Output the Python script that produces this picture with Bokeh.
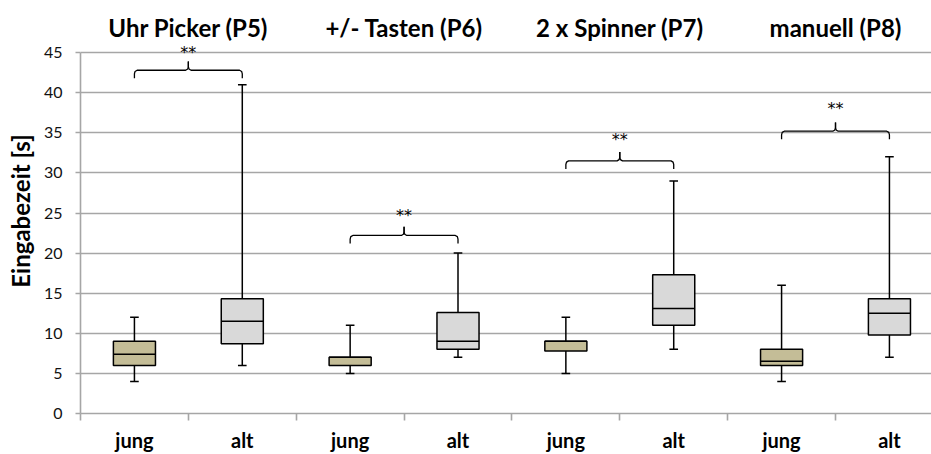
from bokeh.plotting import figure
from bokeh.models import FixedTicker, ColumnDataSource
from bokeh.core.properties import value
from bokeh.embed import file_html
from bokeh.resources import INLINE

# ---- data ----
groups = ["Uhr Picker (P5)", "+/- Tasten (P6)", "2 x Spinner (P7)", "manuell (P8)"]
cat_labels = ["jung", "alt", "jung", "alt", "jung", "alt", "jung", "alt"]
w_low  = [4, 6, 5, 7, 5, 8, 4, 7]
q1     = [6, 8.7, 6, 8, 7.8, 11, 6, 9.8]
median = [7.4, 11.5, 7, 9, 9, 13.1, 6.5, 12.5]
q3     = [9, 14.3, 7, 12.6, 9, 17.3, 8, 14.3]
w_high = [12, 41, 11, 20, 12, 29, 16, 32]
sig_labels = ["**", "**", "**", "**"]
bracket_base = [41.8, 21.2, 30.5, 34.2]
star_y = [45.0, 24.7, 34.2, 38.0]
y_ticks = [0, 5, 10, 15, 20, 25, 30, 35, 40, 45]

FONT = "Lato"
JUNG_COLOR = "#c4bd97"
ALT_COLOR = "#d9d9d9"
GRID = "#a6a6a6"

n = len(cat_labels)
xc = [i + 0.5 for i in range(n)]
colors = [JUNG_COLOR if lab == "jung" else ALT_COLOR for lab in cat_labels]

p = figure(width=931, height=454, output_backend="svg", toolbar_location=None,
           x_range=(0, 7.89), y_range=(0, 50.5),
           min_border_left=80, min_border_right=0, min_border_top=8, min_border_bottom=41)
p.outline_line_color = None
p.background_fill_color = "white"
p.border_fill_color = "white"

# grid
p.xgrid.visible = False
p.ygrid.ticker = FixedTicker(ticks=y_ticks)
p.ygrid.grid_line_color = GRID
p.ygrid.grid_line_width = 1.6

# y axis
p.yaxis.ticker = FixedTicker(ticks=y_ticks)
p.yaxis.bounds = (0, 45)
p.yaxis.axis_line_color = GRID
p.yaxis.axis_line_width = 1.6
p.yaxis.major_tick_line_color = GRID
p.yaxis.major_tick_line_width = 1.6
p.yaxis.major_tick_out = 5
p.yaxis.major_tick_in = 0
p.yaxis.minor_tick_line_color = None
p.yaxis.major_label_text_font = FONT
p.yaxis.major_label_text_font_size = "16px"
p.yaxis.major_label_text_color = "#111111"
p.yaxis.major_label_standoff = 13
p.yaxis.axis_label = "Eingabezeit [s]"
p.yaxis.axis_label_text_font = FONT
p.yaxis.axis_label_text_font_style = "bold"
p.yaxis.axis_label_text_font_size = "24px"
p.yaxis.axis_label_text_color = "black"
p.yaxis.axis_label_standoff = 6

# x axis
p.xaxis.ticker = FixedTicker(ticks=xc, minor_ticks=list(range(n + 1)))
p.xaxis.major_label_overrides = {x: lab for x, lab in zip(xc, cat_labels)}
p.xaxis.axis_line_color = GRID
p.xaxis.axis_line_width = 1.6
p.xaxis.major_tick_line_color = None
p.xaxis.major_tick_out = 0
p.xaxis.major_tick_in = 0
p.xaxis.minor_tick_line_color = GRID
p.xaxis.minor_tick_line_width = 1.6
p.xaxis.minor_tick_out = 7
p.xaxis.minor_tick_in = 0
p.xaxis.major_label_text_font = FONT
p.xaxis.major_label_text_font_style = "bold"
p.xaxis.major_label_text_font_size = "20px"
p.xaxis.major_label_text_color = "black"
p.xaxis.major_label_standoff = 7

# whiskers
p.segment(x0=xc, y0=w_low, x1=xc, y1=q1, line_color="black", line_width=1.5)
p.segment(x0=xc, y0=q3, x1=xc, y1=w_high, line_color="black", line_width=1.5)
cap = 0.04
p.segment(x0=[x - cap for x in xc], y0=w_low, x1=[x + cap for x in xc], y1=w_low,
          line_color="black", line_width=1.5)
p.segment(x0=[x - cap for x in xc], y0=w_high, x1=[x + cap for x in xc], y1=w_high,
          line_color="black", line_width=1.5)

# boxes
src = ColumnDataSource(dict(x=xc, q1=q1, q3=q3, med=median, color=colors))
p.vbar(x="x", width=0.39, bottom="q1", top="q3", fill_color="color",
       line_color="black", line_width=1.5, source=src)
hw = 0.195
p.segment(x0=[x - hw for x in xc], y0=median, x1=[x + hw for x in xc], y1=median,
          line_color="black", line_width=1.5)

# significance brackets
for g in range(len(groups)):
    x0 = 2 * g + 0.5
    x1 = 2 * g + 1.5
    mid = 2 * g + 1.0
    b = bracket_base[g]
    for sgn, xe in ((1, x0), (-1, x1)):
        xs = [xe, xe, xe + sgn * 0.006, xe + sgn * 0.025, mid - sgn * 0.025,
              mid - sgn * 0.006, mid, mid]
        ys = [b, b + 0.55, b + 0.85, b + 1.0, b + 1.0, b + 1.15, b + 1.45, b + 2.1]
        p.line(xs, ys, line_color="black", line_width=1.3)
    p.text(x=[mid], y=[star_y[g]], text=[sig_labels[g]], text_align="center",
           text_baseline="middle", text_font=value("DejaVu Sans"), text_font_size="16px",
           text_color="black")

# group titles
p.text(x=[2 * g + 1.0 for g in range(len(groups))], y=[48.1] * len(groups), text=groups,
       text_align="center", text_baseline="middle", text_font=value(FONT),
       text_font_style="bold", text_font_size="24px", text_color="black")

open("out.html", "w").write(file_html(p, INLINE))
